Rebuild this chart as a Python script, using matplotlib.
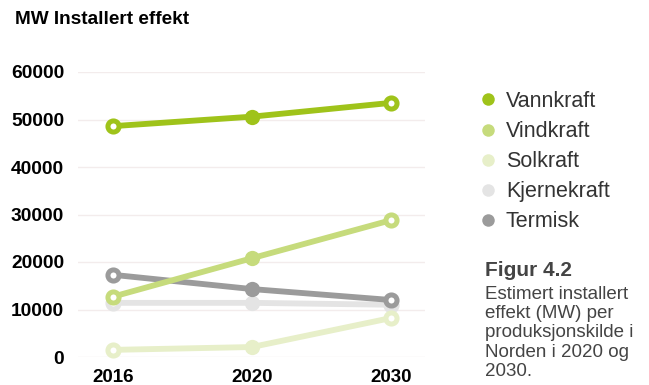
import matplotlib.pyplot as plt
from matplotlib.lines import Line2D

plt.rcParams['font.family'] = ['Liberation Sans', 'DejaVu Sans']

years = ['2016', '2020', '2030']
sources = ['Vannkraft', 'Vindkraft', 'Solkraft', 'Kjernekraft', 'Termisk']
vannkraft = [48600, 50600, 53500]
vindkraft = [12700, 20800, 28800]
solkraft = [1500, 2100, 8200]
kjernekraft = [11400, 11400, 11000]
termisk = [17300, 14300, 12000]
yticks = [0, 10000, 20000, 30000, 40000, 50000, 60000]

colors = {'Vannkraft': '#9fc31a', 'Vindkraft': '#c6db7c', 'Solkraft': '#e7efc9',
          'Kjernekraft': '#e4e4e4', 'Termisk': '#9b9b9b'}
values = {'Vannkraft': vannkraft, 'Vindkraft': vindkraft, 'Solkraft': solkraft,
          'Kjernekraft': kjernekraft, 'Termisk': termisk}

fig = plt.figure(figsize=(6.49, 3.85), dpi=100)
ax = fig.add_axes([78/649, 1-357/385, 347/649, 285/385])

x = list(range(len(years)))
# draw order bottom -> top
for name in ['Kjernekraft', 'Termisk', 'Solkraft', 'Vindkraft', 'Vannkraft']:
    c = colors[name]
    v = values[name]
    ax.plot(x, v, color=c, lw=4.2, solid_capstyle='round', zorder=3, clip_on=False)
    # hollow ends
    ax.plot([x[0], x[2]], [v[0], v[2]], ls='none', marker='o', ms=8, mew=3.6,
            mec=c, mfc='white', zorder=4, clip_on=False)
    # filled middle
    ax.plot([x[1]], [v[1]], ls='none', marker='o', ms=11, mew=0,
            mfc=c, zorder=4, clip_on=False)

ax.set_xlim(-0.252, 2.245)
ax.set_ylim(0, 60000)
ax.set_yticks(yticks)
ax.set_yticklabels([str(t) for t in yticks], fontsize=13.8, fontweight='bold')
ax.set_xticks(x)
ax.set_xticklabels(years, fontsize=13.5, fontweight='bold')
ax.tick_params(axis='y', length=0, pad=10)
ax.tick_params(axis='x', length=0, pad=9)
ax.grid(axis='y', color='#f3ecec', lw=1)
ax.set_axisbelow(True)
for s in ax.spines.values():
    s.set_visible(False)

fig.text(15/649, 1-20/385, 'MW Installert effekt', fontsize=13.7, fontweight='bold',
         va='center', ha='left')

handles = [Line2D([], [], ls='none', marker='o', ms=9, mew=0, mfc=colors[n]) for n in sources]
fig.legend(handles, sources, loc='upper left', bbox_to_anchor=(480/649, 1-91/385),
           frameon=False, fontsize=15.5, labelcolor='#333333', handlelength=0.7,
           handletextpad=0.5, labelspacing=0.42, borderpad=0, borderaxespad=0)

fig.text(485/649, 1-270/385, 'Figur 4.2', fontsize=15, fontweight='bold',
         color='#444444', va='center', ha='left')
fig.text(485/649, 1-286/385, 'Estimert installert\neffekt (MW) per\nproduksjonskilde i\nNorden i 2020 og\n2030.',
         fontsize=13.5, color='#444444', va='top', ha='left', linespacing=1.17)

fig.savefig('out.png', dpi=100)
